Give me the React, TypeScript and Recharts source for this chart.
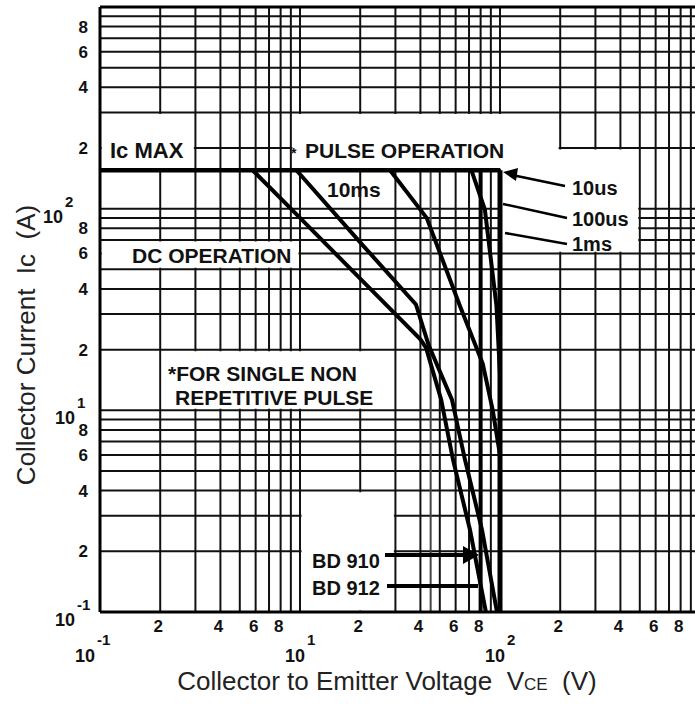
import React from 'react'
import {
  LineChart,
  Line,
  XAxis,
  YAxis,
  CartesianGrid,
  ReferenceArea,
  ReferenceLine,
} from 'recharts'

// log grid (both axes)
const X_GRID = [1, 2, 3, 4, 5, 6, 7, 8, 9, 10, 20, 30, 40, 50, 60, 70, 80, 90, 100, 200, 300, 400, 500, 600, 700, 800, 900, 1000]
const Y_GRID = [0.1, 0.2, 0.3, 0.4, 0.5, 0.6, 0.7, 0.8, 0.9, 1, 2, 3, 4, 5, 6, 7, 8, 9, 10, 20, 30, 40, 50, 60, 70, 80, 90, 100]

// tick labels as printed on the sheet
const X_MINOR = [2, 4, 6, 8, 20, 40, 60, 80, 200, 400, 600, 800]
const Y_MINOR = [0.2, 0.4, 0.6, 0.8, 2, 4, 6, 8, 20, 40, 60, 80]
const X_DECADES = [1, 10, 100]
const X_DECADE_EXP = ['-1', '1', '2']
const Y_DECADES = [0.1, 1, 10]
const Y_DECADE_EXP = ['-1', '1', '2']

// SOA curves: VCE (V) / IC (A)
const ICMAX_V = [1, 100]
const ICMAX_A = [15.5, 15.5]
const DC_V = [5.8, 10, 20, 40, 42.7, 50.8, 58.2, 70.8, 85]
const DC_A = [15.5, 9, 4.5, 2.25, 2.04, 1.13, 0.57, 0.255, 0.1]
const MS10_V = [9.6, 20, 38, 44, 57.5, 66.8, 81.3, 96.6]
const MS10_A = [15.5, 6.8, 3.35, 2.1, 1.13, 0.57, 0.255, 0.1]
const MS1_V = [28.2, 43, 63, 82, 92, 100]
const MS1_A = [15.5, 9, 3.3, 1.7, 1.0, 0.6]
const US100_V = [72, 84, 96, 100]
const US100_A = [15.5, 9.9, 3.3, 1.5]
const US10_V = [100, 100] // BD 912 VCEO
const US10_A = [15.5, 0.1]
const BD910_V = [80, 80]
const BD910_A = [15.5, 0.1]

const pts = (xs: number[], ys: number[]) => xs.map((x, i) => ({ x, y: ys[i] }))

const series = [
  { key: 'icmax', data: pts(ICMAX_V, ICMAX_A), w: 4.5 },
  { key: 'dc', data: pts(DC_V, DC_A), w: 4 },
  { key: '10ms', data: pts(MS10_V, MS10_A), w: 4 },
  { key: '1ms', data: pts(MS1_V, MS1_A), w: 4 },
  { key: '100us', data: pts(US100_V, US100_A), w: 4 },
  { key: '10us', data: pts(US10_V, US10_A), w: 5 },
  { key: 'bd910', data: pts(BD910_V, BD910_A), w: 4 },
]

// white cut-outs behind the annotations
const boxes = [
  { x1: 1, x2: 3, y1: 15.5, y2: 30 },
  { x1: 9, x2: 200, y1: 15.5, y2: 30 },
  { x1: 100, x2: 500, y1: 6, y2: 20 },
  { x1: 1, x2: 10, y1: 5, y2: 7 },
  { x1: 2, x2: 30, y1: 1, y2: 2 },
  { x1: 10, x2: 30, y1: 0.1, y2: 0.4 },
]
const INSET = 1.018

const FONT = "'Liberation Sans', Arial, Helvetica, sans-serif"
const INK = '#111'

const mantissa = (v: number) => Math.round(v / Math.pow(10, Math.floor(Math.log10(v) + 1e-9)))

function XTick(props: any) {
  const { x, payload } = props
  const v = payload.value
  const d = X_DECADES.indexOf(v)
  if (d >= 0) {
    const cx = x - (d === 0 ? 15 : 5)
    return (
      <g fontFamily={FONT} fontWeight="bold" fill={INK}>
        <text x={cx} y={662} textAnchor="middle" fontSize={18}>10</text>
        <text x={cx + 12} y={645} fontSize={15}>{X_DECADE_EXP[d]}</text>
      </g>
    )
  }
  if (X_MINOR.includes(v)) {
    return (
      <text x={x - 2} y={632} textAnchor="middle" fontFamily={FONT} fontWeight="bold" fontSize={17} fill={INK}>
        {mantissa(v)}
      </text>
    )
  }
  return <g />
}

function YTick(props: any) {
  const { y, payload } = props
  const v = payload.value
  const d = Y_DECADES.indexOf(v)
  if (d >= 0) {
    const ex = d === 2 ? 63 : 75
    return (
      <g fontFamily={FONT} fontWeight="bold" fill={INK}>
        <text x={ex} y={y + 14} textAnchor="end" fontSize={18}>10</text>
        <text x={ex + 2} y={y - 2} fontSize={15}>{Y_DECADE_EXP[d]}</text>
      </g>
    )
  }
  if (Y_MINOR.includes(v)) {
    return (
      <text x={88} y={y + 6} textAnchor="end" fontFamily={FONT} fontWeight="bold" fontSize={17} fill={INK}>
        {mantissa(v)}
      </text>
    )
  }
  return <g />
}

const note: React.SVGProps<SVGTextElement> = {
  fontFamily: FONT,
  fontWeight: 'bold',
  fill: INK,
}

export default function App() {
  return (
    <div
      style={{
        position: 'absolute',
        left: 0,
        top: 0,
        width: 695,
        height: 704,
        overflow: 'hidden',
        background: '#fff',
      }}
    >
      <LineChart width={705} height={704} margin={{ top: 7, right: 5, bottom: 0, left: 0 }}>
        <CartesianGrid stroke={INK} strokeWidth={2} />
        <XAxis
          type="number"
          dataKey="x"
          scale="log"
          domain={[1, 1000]}
          allowDataOverflow
          ticks={X_GRID}
          interval={0}
          height={92}
          tickLine={false}
          axisLine={{ stroke: '#000', strokeWidth: 3 }}
          tick={(p: any) => <XTick {...p} />}
        />
        <YAxis
          type="number"
          scale="log"
          domain={[0.1, 100]}
          allowDataOverflow
          ticks={Y_GRID}
          interval={0}
          width={100}
          tickLine={false}
          axisLine={{ stroke: '#000', strokeWidth: 3 }}
          tick={(p: any) => <YTick {...p} />}
        />
        {boxes.map((b, i) => (
          <ReferenceArea
            key={i}
            x1={b.x1 * INSET}
            x2={b.x2 / INSET}
            y1={b.y1 * INSET}
            y2={b.y2 / INSET}
            fill="#fff"
            fillOpacity={1}
            stroke="none"
          />
        ))}
        <ReferenceLine y={100} stroke="#000" strokeWidth={3} ifOverflow="visible" />
        <ReferenceLine
          segment={[{ x: 45, y: 0.1 }, { x: 45, y: 15.5 }]}
          stroke="#444"
          strokeWidth={2}
        />
        {series.map((s) => (
          <Line
            key={s.key}
            data={s.data}
            dataKey="y"
            type="linear"
            stroke="#000"
            strokeWidth={s.w}
            dot={false}
            activeDot={false}
            isAnimationActive={false}
          />
        ))}
      </LineChart>

      <svg
        width={695}
        height={704}
        style={{ position: 'absolute', left: 0, top: 0, pointerEvents: 'none' }}
      >
        {/* curve annotations */}
        <text {...note} x={110} y={158} fontSize={22}>Ic MAX</text>
        <text {...note} x={291} y={158} fontSize={14}>*</text>
        <text {...note} x={305} y={158} fontSize={21}>PULSE OPERATION</text>
        <text {...note} x={327} y={197} fontSize={21}>10ms</text>
        <text {...note} x={132} y={263} fontSize={21}>DC OPERATION</text>
        <text {...note} x={168} y={381} fontSize={21}>*FOR SINGLE NON</text>
        <text {...note} x={175} y={405} fontSize={21}>REPETITIVE PULSE</text>
        <text {...note} x={572} y={195} fontSize={20}>10us</text>
        <text {...note} x={572} y={226} fontSize={20}>100us</text>
        <text {...note} x={572} y={251} fontSize={20}>1ms</text>
        <text {...note} x={312} y={568} fontSize={20}>BD 910</text>
        <text {...note} x={312} y={595} fontSize={20}>BD 912</text>

        {/* leader lines */}
        <g stroke="#000" strokeWidth={2.5}>
          <line x1={512} y1={175} x2={565} y2={186} />
          <line x1={503} y1={204} x2={567} y2={218} />
          <line x1={505} y1={233} x2={567} y2={244} />
        </g>
        <polygon points="503,172 518,168 516,181" fill="#000" />
        <g stroke="#000" strokeWidth={4}>
          <line x1={385} y1={555} x2={466} y2={555} />
          <line x1={387} y1={586} x2={478} y2={586} />
        </g>
        <polygon points="479,555 463,546 463,564" fill="#000" />

        {/* axis titles */}
        <text
          transform="translate(35,345) rotate(-90)"
          textAnchor="middle"
          fontFamily={FONT}
          fontSize={26}
          fill="#222"
          style={{ whiteSpace: 'pre' }}
        >
          {'Collector Current  Ic  (A)'}
        </text>
        <text
          x={387}
          y={690}
          textAnchor="middle"
          fontFamily={FONT}
          fontSize={26}
          fill="#222"
          style={{ whiteSpace: 'pre' }}
        >
          {'Collector to Emitter Voltage  V'}
          <tspan fontSize={17}>CE</tspan>
          {'  (V)'}
        </text>
      </svg>
    </div>
  )
}
